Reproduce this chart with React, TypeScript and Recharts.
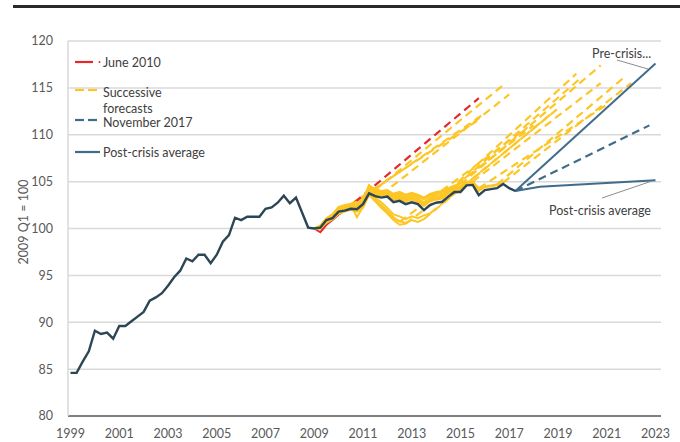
import React from 'react';
import { LineChart, Line, XAxis, YAxis, CartesianGrid } from 'recharts';

const FONT = 'Lato, "Open Sans", "DejaVu Sans", sans-serif';

// ---------- data ----------
const xTicks = [1999, 2001, 2003, 2005, 2007, 2009, 2011, 2013, 2015, 2017, 2019, 2021, 2023];
const yTicks = [80, 85, 90, 95, 100, 105, 110, 115, 120];

// Outturn, quarterly from 1999 Q1
const actualStart = 1999;
const actualValues = [
  84.6, 84.6, 85.8, 86.9, 89.1, 88.75, 88.9, 88.25, 89.6, 89.6, 90.1, 90.6,
  91.1, 92.3, 92.65, 93.1, 93.9, 94.8, 95.5, 96.8, 96.5, 97.2, 97.2, 96.3,
  97.2, 98.6, 99.3, 101.15, 100.9, 101.25, 101.25, 101.25, 102.1, 102.25, 102.75, 103.5,
  102.7, 103.3, 101.7, 100.1, 100.0, 100.1, 100.9, 101.1, 101.8, 101.9, 102.1, 102.05,
  102.6, 103.75, 103.45, 103.3, 103.4, 102.8, 102.95, 102.6, 102.8, 102.6, 101.95, 102.5,
  102.75, 102.85, 103.4, 103.9, 103.9, 104.6, 104.65, 103.55, 104.1, 104.2, 104.3, 104.75,
  104.3, 104.0,
];

// Vintage outturn paths, quarterly from 2009 Q1
const vintageStart = 2009;
const june2010Outturn = [100, 99.6, 100.4, 100.9, 101.5, 101.9];
const june2010End = [2015.75, 113.9];

const yellowOutturns: number[][] = [
  [100, 100.1, 100.8, 101.3, 101.9, 102.3, 102.6],
  [100, 100.3, 101.0, 101.5, 102.1, 102.4, 102.6, 102.9],
  [100, 100.3, 101.1, 101.5, 102.2, 102.4, 102.5, 101.2, 102.3, 104.5, 104.1],
  [100, 100.2, 101.0, 101.5, 102.3, 102.5, 102.6, 102.4, 102.7, 104.6, 104.0, 103.6],
  [100, 100.0, 100.7, 101.0, 101.6, 101.9, 102.1, 101.9, 102.3, 103.8, 103.0, 102.5, 101.9, 101.2, 100.7],
  [100, 100.0, 100.6, 101.0, 101.6, 101.8, 102.0, 101.8, 102.2, 103.6, 102.9, 102.2, 101.6, 100.9, 100.4, 100.5],
  [100, 100.1, 100.8, 101.1, 101.7, 102.0, 102.2, 102.0, 102.4, 103.9, 103.1, 102.4, 101.8, 101.1, 100.8, 100.6, 100.9, 100.7, 101.0],
  [100, 100.1, 100.9, 101.2, 101.8, 102.1, 102.3, 102.1, 102.5, 104.0, 103.3, 102.8, 102.2, 101.5, 101.3, 101.0, 101.3, 101.1, 101.4, 101.6],
  [100, 100.2, 101.0, 101.3, 102.0, 102.3, 102.5, 102.4, 102.9, 104.4, 104.0, 103.8, 103.9, 103.5, 103.7, 103.4, 103.6, 103.4, 103.1, 103.5, 103.7, 103.8, 104.0],
  [100, 100.2, 101.0, 101.4, 102.0, 102.3, 102.6, 102.5, 103.0, 104.5, 104.1, 103.9, 104.0, 103.6, 103.8, 103.5, 103.7, 103.5, 103.2, 103.6, 103.8, 103.9, 104.2, 104.4],
  [100, 100.2, 101.1, 101.4, 102.1, 102.4, 102.6, 102.6, 103.1, 104.6, 104.2, 104.0, 104.1, 103.7, 103.9, 103.6, 103.8, 103.6, 103.3, 103.7, 103.9, 104.0, 104.3, 104.6, 104.7],
  [100, 100.1, 101.0, 101.3, 102.0, 102.2, 102.5, 102.4, 102.9, 104.3, 103.9, 103.7, 103.8, 103.3, 103.5, 103.2, 103.4, 103.2, 102.8, 103.3, 103.5, 103.6, 104.0, 104.4, 104.5, 105.0, 105.0],
  [100, 100.1, 100.9, 101.2, 101.9, 102.1, 102.4, 102.3, 102.8, 104.1, 103.8, 103.6, 103.7, 103.2, 103.4, 103.1, 103.3, 103.0, 102.6, 103.1, 103.3, 103.4, 103.9, 104.3, 104.4, 104.9, 105.0, 104.3],
  [100, 100.1, 100.9, 101.2, 101.9, 102.1, 102.3, 102.2, 102.7, 104.0, 103.7, 103.5, 103.6, 103.1, 103.3, 103.0, 103.2, 102.9, 102.5, 103.0, 103.2, 103.3, 103.8, 104.2, 104.3, 104.8, 104.9, 104.1, 104.5, 104.6, 104.7],
  [100, 100.1, 100.9, 101.2, 101.9, 102.1, 102.3, 102.2, 102.7, 104.0, 103.6, 103.4, 103.5, 103.0, 103.2, 102.9, 103.1, 102.8, 102.4, 102.9, 103.1, 103.2, 103.7, 104.1, 104.2, 104.8, 104.9, 104.0, 104.4, 104.5, 104.6, 104.9],
];
const yellowEnds: number[][] = [
  [2015.75, 111.6],
  [2016.0, 112.3],
  [2016.75, 115.3],
  [2017.0, 114.3],
  [2017.75, 110.8],
  [2018.0, 111.0],
  [2018.75, 112.3],
  [2019.0, 112.8],
  [2019.75, 116.5],
  [2020.0, 116.2],
  [2020.75, 117.4],
  [2020.75, 115.5],
  [2021.0, 113.2],
  [2021.75, 116.2],
  [2022.0, 115.5],
];

// Projections from 2017 Q2
const projStart = [2017.25, 104.0];
const nov2017End = [2022.75, 111.0];
const preCrisisEnd = [2023.0, 117.6];
const postCrisisPath = [[2017.25, 104.0], [2018.25, 104.45], [2023.0, 105.15]];

// ---------- helpers ----------
const quarterly = (start: number, vals: number[]) => vals.map((v, i) => ({ t: start + i / 4, v }));
const lastPoint = (start: number, vals: number[]) => ({ t: start + (vals.length - 1) / 4, v: vals[vals.length - 1] });
const pair = (p: number[]) => ({ t: p[0], v: p[1] });

const X_MIN = 1998.897;
const X_MAX = 2023.226;

const C_ACTUAL = '#2c4655';
const C_NAVY = '#3f6c8b';
const C_YELLOW = '#fcc626';
const C_RED = '#e5282d';
const C_TEXT = '#595959';
const DASH = '8 5';

const LegendOverlay = () => (
  <svg width={680} height={442} style={{ position: 'absolute', left: 0, top: 0, pointerEvents: 'none' }}>
    <g fontFamily={FONT} fontSize={12.5} fill="#404040">
      <line x1={75} x2={93} y1={62} y2={62} stroke={C_RED} strokeWidth={2.2} />
      <circle cx={99.5} cy={62} r={1} fill={C_RED} />
      <text x={103} y={62} dominantBaseline="central">June 2010</text>

      <line x1={75} x2={84} y1={90} y2={90} stroke={C_YELLOW} strokeWidth={2.2} />
      <line x1={88} x2={97} y1={90} y2={90} stroke={C_YELLOW} strokeWidth={2.2} />
      <text x={103} y={92} dominantBaseline="central">Successive</text>
      <text x={103} y={108} dominantBaseline="central">forecasts</text>

      <line x1={75} x2={84} y1={120} y2={120} stroke={C_NAVY} strokeWidth={2.2} />
      <line x1={88} x2={97} y1={120} y2={120} stroke={C_NAVY} strokeWidth={2.2} />
      <text x={103} y={122} dominantBaseline="central">November 2017</text>

      <line x1={75} x2={100} y1={152} y2={152} stroke={C_NAVY} strokeWidth={2.2} />
      <text x={103} y={152} dominantBaseline="central">Post-crisis average</text>

      <text x={592} y={53} dominantBaseline="central">Pre-crisis...</text>
      <line x1={617} y1={60} x2={648} y2={69} stroke="#8c8c8c" strokeWidth={1} />
      <text x={549} y={210} dominantBaseline="central">Post-crisis average</text>
      <line x1={602} y1={198} x2={652} y2={181} stroke="#8c8c8c" strokeWidth={1} />
    </g>
  </svg>
);

const YLabel = () => (
  <text x={23} y={222} transform="rotate(-90 23 222)" textAnchor="middle" dominantBaseline="central"
    fontFamily={FONT} fontSize={12.5} fill={C_TEXT}>2009 Q1 = 100</text>
);

export default function App() {
  const actual = quarterly(actualStart, actualValues);
  const redOut = quarterly(vintageStart, june2010Outturn);
  const redFc = [lastPoint(vintageStart, june2010Outturn), pair(june2010End)];
  const yOut = yellowOutturns.map((arr) => quarterly(vintageStart, arr));
  const yFc = yellowOutturns.map((arr, i) => [lastPoint(vintageStart, arr), pair(yellowEnds[i])]);
  const nov = [pair(projStart), pair(nov2017End)];
  const pre = [pair(projStart), pair(preCrisisEnd)];
  const post = postCrisisPath.map(pair);

  const common = { dataKey: 'v', dot: false, activeDot: false, isAnimationActive: false, type: 'linear' as const };

  return (
    <div style={{ position: 'fixed', left: 0, top: 0, width: 680, height: 442, background: '#fff' }}>
      <div style={{ position: 'absolute', left: 13, top: 5, width: 667, height: 3, background: '#2a2a2a' }} />
      <LineChart width={680} height={442} margin={{ top: 41, right: 19, bottom: 0, left: 0 }}>
        <CartesianGrid horizontal vertical={false} stroke="#d9d9d9" strokeWidth={1.5} />
        <XAxis type="number" dataKey="t" domain={[X_MIN, X_MAX]} ticks={xTicks} allowDataOverflow interval={0}
          height={26} tickSize={0} tickMargin={13}
          axisLine={{ stroke: '#7f7f7f', strokeWidth: 2 }}
          tick={{ fill: C_TEXT, fontSize: 12.5, fontFamily: FONT }} />
        <YAxis type="number" domain={[80, 120]} ticks={yTicks} interval={0} width={68} tickSize={0} tickMargin={15}
          axisLine={{ stroke: '#d9d9d9', strokeWidth: 1.5 }}
          tick={{ fill: C_TEXT, fontSize: 12.5, fontFamily: FONT }}
          label={<YLabel />} />
        {yFc.map((d, i) => (
          <Line key={'yf' + i} {...common} data={d} stroke={C_YELLOW} strokeWidth={2.2} strokeDasharray={DASH} />
        ))}
        <Line {...common} data={redOut} stroke={C_RED} strokeWidth={2} />
        <Line {...common} data={redFc} stroke={C_RED} strokeWidth={2.2} strokeDasharray={DASH} />
        {yOut.map((d, i) => (
          <Line key={'yo' + i} {...common} data={d} stroke={C_YELLOW} strokeWidth={2} />
        ))}
        <Line {...common} data={nov} stroke={C_NAVY} strokeWidth={2.2} strokeDasharray={DASH} />
        <Line {...common} data={pre} stroke={C_NAVY} strokeWidth={2} />
        <Line {...common} data={post} stroke={C_NAVY} strokeWidth={2} />
        <Line {...common} data={actual} stroke={C_ACTUAL} strokeWidth={2.4} />
      </LineChart>
      <LegendOverlay />
    </div>
  );
}
